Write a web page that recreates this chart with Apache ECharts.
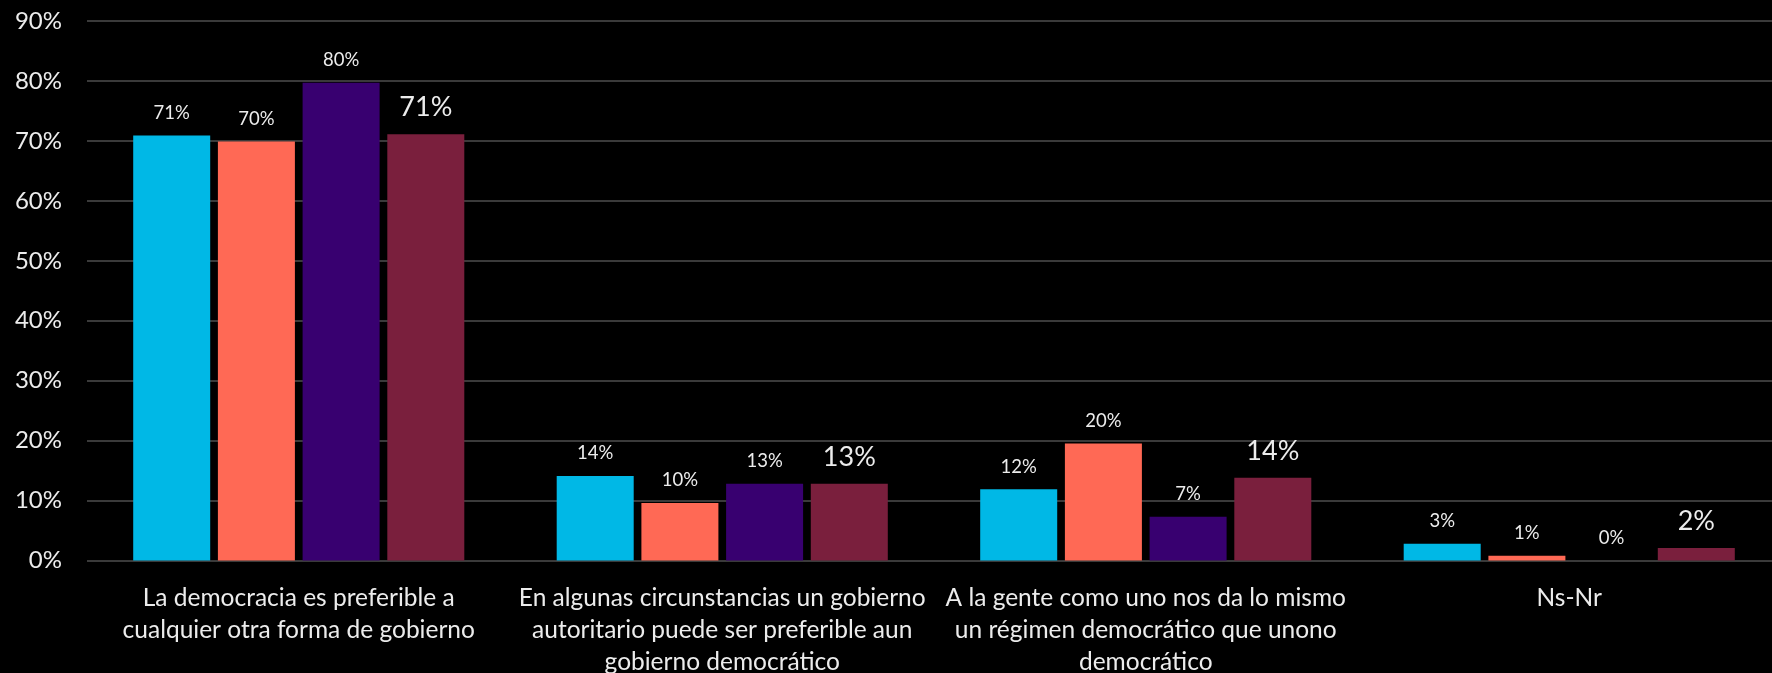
<!DOCTYPE html>
<html>
<head>
<meta charset="utf-8">
<script src="https://cdn.jsdelivr.net/npm/echarts@6/dist/echarts.min.js"></script>
<style>
html,body{margin:0;padding:0;background:#000;}
#c{width:1772px;height:673px;}
</style>
</head>
<body>
<div id="c"></div>
<script>
const categories = [
  "La democracia es preferible a\ncualquier otra forma de gobierno",
  "En algunas circunstancias un gobierno\nautoritario puede ser preferible aun\ngobierno democrático",
  "A la gente como uno nos da lo mismo\nun régimen democrático que unono\ndemocrático",
  "Ns-Nr"
];
const seriesNames = ["Serie 1", "Serie 2", "Serie 3", "Serie 4"];
const serie1 = [70.9, 14.1, 11.9, 2.8];
const serie2 = [69.9, 9.6, 19.5, 0.8];
const serie3 = [79.7, 12.8, 7.3, 0];
const serie4 = [71.1, 12.8, 13.8, 2.1];
const colors = ["#00B8E6", "#FF6955", "#380070", "#7A1F3D"];
const labelSizes = [18.5, 18.5, 18.5, 27];

const allData = [serie1, serie2, serie3, serie4];
const FONT = "Lato, 'Open Sans', sans-serif";

const chart = echarts.init(document.getElementById('c'), null, {renderer: 'canvas'});
chart.setOption({
  backgroundColor: '#000000',
  animation: false,
  grid: {left: 87, right: -9, top: 21, bottom: 112.5, containLabel: false, outerBoundsMode: 'none'},
  xAxis: {
    type: 'category',
    data: categories,
    axisLine: {show: false},
    axisTick: {show: false},
    axisLabel: {
      color: '#ececec',
      fontFamily: FONT,
      fontSize: 24.5,
      lineHeight: 32,
      margin: 22,
      interval: 0
    }
  },
  yAxis: {
    type: 'value',
    min: 0,
    max: 90,
    interval: 10,
    axisLine: {show: false},
    axisTick: {show: false},
    axisLabel: {
      color: '#ececec',
      fontFamily: FONT,
      fontSize: 24,
      margin: 25,
      formatter: v => v + '%'
    },
    splitLine: {lineStyle: {color: '#3a3a3a', width: 2}}
  },
  series: allData.map((d, i) => ({
    name: seriesNames[i],
    type: 'bar',
    data: d,
    barWidth: 77,
    barGap: '10%',
    itemStyle: {color: colors[i]},
    label: {
      show: true,
      position: 'top',
      distance: 13,
      color: '#ececec',
      fontFamily: FONT,
      fontSize: labelSizes[i],
      formatter: p => Math.round(p.value) + '%'
    }
  }))
});
</script>
</body>
</html>
